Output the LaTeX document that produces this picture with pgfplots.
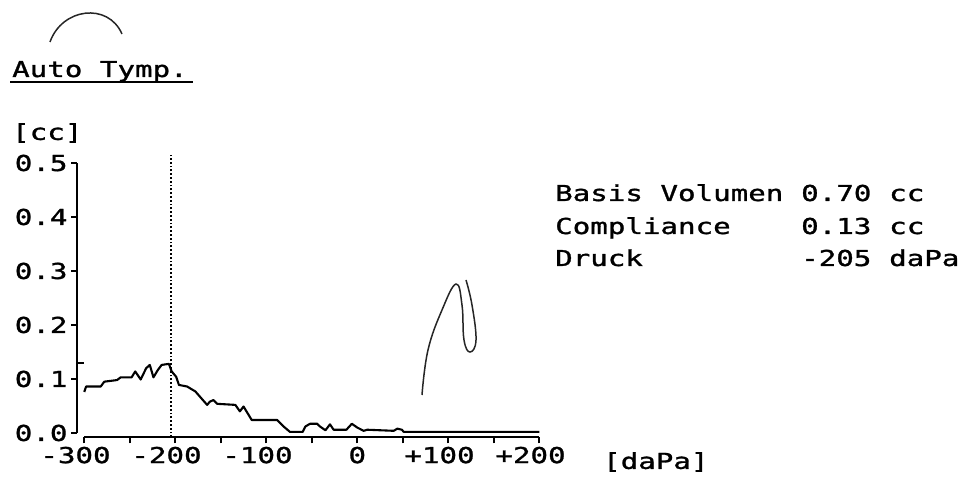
\documentclass[border=0pt]{standalone}
\usepackage{fontspec}
\usepackage{pgfplots}
\usepackage{pgfplotstable}
\pgfplotsset{compat=1.18}
\newfontfamily\prfont[FakeStretch=1.33,FakeBold=1.3]{DejaVu Sans Mono}
\newcommand\pf{\prfont\fontsize{22}{26}\selectfont}

\pgfplotstableread{
x y
-300 0.076
-298 0.086
-282 0.086
-278 0.095
-264 0.098
-260 0.103
-248 0.103
-244 0.114
-238 0.099
-232 0.120
-228 0.126
-224 0.103
-219 0.117
-215 0.126
-207 0.128
-204 0.114
-199 0.104
-196 0.089
-187 0.086
-178 0.077
-165 0.052
-162 0.058
-158 0.061
-154 0.054
-134 0.052
-129 0.040
-125 0.049
-116 0.024
-88 0.024
-81 0.012
-74 0.002
-60 0.002
-57 0.012
-52 0.017
-44 0.017
-41 0.012
-35 0.005
-30 0.016
-26 0.006
-12 0.006
-6 0.017
0 0.010
7 0.004
11 0.006
40 0.004
44 0.008
49 0.006
51 0.002
200 0.002
}\curve

\begin{document}
\begin{tikzpicture}[x=1bp,y=1bp]
\useasboundingbox (0,0) rectangle (974,480);
\begin{axis}[
  at={(77bp,42.7bp)}, anchor=south west,
  scale only axis, width=462.3bp, height=274.3bp,
  xmin=-308, xmax=200, ymin=-0.008, ymax=0.5,
  axis x line*=bottom, axis y line*=left,
  x axis line style={-, shorten <=7.3bp, line width=2bp},
  y axis line style={-, shorten <=4.3bp, line width=2bp},
  xtick={-300,-200,-100,0,100,200},
  minor xtick={-250,-150,-50,50,150},
  xticklabels={\llap{-}300,\llap{-}200,\llap{-}100,0,\llap{+}100,\llap{+}200},
  ytick={0,0.1,0.2,0.3,0.4,0.5},
  yticklabels={0.0,0.1,0.2,0.3,0.4,0.5},
  tick align=outside, major tick length=6bp, minor tick length=6bp,
  tick style={black, line width=1.8bp},
  ticklabel style={font=\pf},
  extra y ticks={0.13}, extra y tick labels={},
  extra y tick style={tick align=inside, major tick length=7bp},
  clip=false,
]
\addplot[black, line width=2.1bp, line join=round] table[x=x,y=y]{\curve};
\addplot[black, line width=1.8bp, dash pattern=on 1.8bp off 2bp] coordinates {(-205,-0.008) (-205,0.515)};
\end{axis}
% header texts
\node[anchor=base west, inner sep=0, font=\pf] at (12,403) {Auto Tymp.};
\draw[line width=2.5bp] (10,398) -- (193,398);
\node[anchor=west, inner sep=0, font=\pf] at (12,347) {[cc]};
\node[anchor=west, inner sep=0, font=\pf] at (603,18) {[daPa]};
% result block
\node[anchor=base west, inner sep=0, font=\pf] at (555,279) {Basis Volumen};
\node[anchor=base west, inner sep=0, font=\pf] at (801,279) {0.70};
\node[anchor=base west, inner sep=0, font=\pf] at (889,279) {cc};
\node[anchor=base west, inner sep=0, font=\pf] at (555,246) {Compliance};
\node[anchor=base west, inner sep=0, font=\pf] at (801,246) {0.13};
\node[anchor=base west, inner sep=0, font=\pf] at (889,246) {cc};
\node[anchor=base west, inner sep=0, font=\pf] at (555,214) {Druck};
\node[anchor=base west, inner sep=0, font=\pf] at (801,214) {-205};
\node[anchor=base west, inner sep=0, font=\pf] at (889,214) {daPa};
% hand-drawn pen marks
\draw[line width=1.5bp, black!85] (50,438) .. controls (62,472) and (108,478) .. (122,446);
\draw[line width=1.5bp, black!85] plot[smooth, tension=0.7] coordinates {(422,85) (428,130) (442,170) (456,196) (462,175) (464,140) (470,128) (476,140) (472,175) (466,200)};
\end{tikzpicture}
\end{document}
